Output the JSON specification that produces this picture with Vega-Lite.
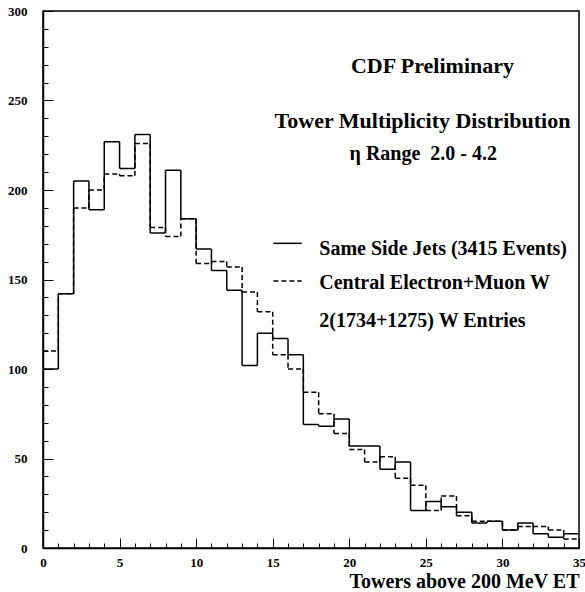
{
  "$schema": "https://vega.github.io/schema/vega-lite/v6.json",
  "width": 536,
  "height": 537,
  "autosize": "none",
  "padding": {"left": 43, "top": 11, "right": 6, "bottom": 44},
  "background": "white",
  "config": {
    "view": {"stroke": "black", "strokeWidth": 1.5},
    "font": "Liberation Serif",
    "axis": {"domainColor": "black", "tickColor": "black", "labelColor": "black", "titleColor": "black", "domainWidth": 1.5, "tickWidth": 1, "grid": false, "labelFont": "Liberation Serif", "labelFontWeight": "bold", "labelFontSize": 13, "labelFlush": false, "labelOverlap": false},
    "axisX": {
      "tickCount": 35,
      "labelExpr": "datum.value % 5 === 0 ? datum.label : ''",
      "tickSize": {"condition": {"test": "datum.value % 5 === 0", "value": -10}, "value": -5},
      "labelPadding": 18,
      "titleFont": "Liberation Serif", "titleFontWeight": "bold", "titleFontSize": 20,
      "titleAnchor": null, "titleAlign": "right", "titleBaseline": "alphabetic",
      "titleX": 536, "titleY": 39
    },
    "axisY": {
      "tickCount": 30,
      "labelExpr": "datum.value % 50 === 0 ? datum.label : ''",
      "tickSize": {"condition": {"test": "datum.value % 50 === 0", "value": -10}, "value": -5},
      "labelPadding": 26
    }
  },
  "data": {
    "values": [
      {"lo": 0, "hi": 1, "jets": 100, "w": 110},
      {"lo": 1, "hi": 2, "jets": 142, "w": 142},
      {"lo": 2, "hi": 3, "jets": 205, "w": 190},
      {"lo": 3, "hi": 4, "jets": 189, "w": 200},
      {"lo": 4, "hi": 5, "jets": 227, "w": 209},
      {"lo": 5, "hi": 6, "jets": 212, "w": 208},
      {"lo": 6, "hi": 7, "jets": 231, "w": 226},
      {"lo": 7, "hi": 8, "jets": 176, "w": 179},
      {"lo": 8, "hi": 9, "jets": 211, "w": 174},
      {"lo": 9, "hi": 10, "jets": 184, "w": 184},
      {"lo": 10, "hi": 11, "jets": 167, "w": 159},
      {"lo": 11, "hi": 12, "jets": 155, "w": 160},
      {"lo": 12, "hi": 13, "jets": 144, "w": 157},
      {"lo": 13, "hi": 14, "jets": 102, "w": 143},
      {"lo": 14, "hi": 15, "jets": 120, "w": 132},
      {"lo": 15, "hi": 16, "jets": 117, "w": 108},
      {"lo": 16, "hi": 17, "jets": 108, "w": 100},
      {"lo": 17, "hi": 18, "jets": 69, "w": 87},
      {"lo": 18, "hi": 19, "jets": 68, "w": 75},
      {"lo": 19, "hi": 20, "jets": 72, "w": 64},
      {"lo": 20, "hi": 21, "jets": 57, "w": 55},
      {"lo": 21, "hi": 22, "jets": 57, "w": 48},
      {"lo": 22, "hi": 23, "jets": 44, "w": 51},
      {"lo": 23, "hi": 24, "jets": 48, "w": 39},
      {"lo": 24, "hi": 25, "jets": 21, "w": 35},
      {"lo": 25, "hi": 26, "jets": 26, "w": 21},
      {"lo": 26, "hi": 27, "jets": 23, "w": 29},
      {"lo": 27, "hi": 28, "jets": 20, "w": 18},
      {"lo": 28, "hi": 29, "jets": 14, "w": 15},
      {"lo": 29, "hi": 30, "jets": 15, "w": 15},
      {"lo": 30, "hi": 31, "jets": 10, "w": 10},
      {"lo": 31, "hi": 32, "jets": 14, "w": 12},
      {"lo": 32, "hi": 33, "jets": 8, "w": 12},
      {"lo": 33, "hi": 34, "jets": 6, "w": 10},
      {"lo": 34, "hi": 35, "jets": 8, "w": 5}
    ]
  },
  "layer": [
    {
      "transform": [{"fold": ["jets", "w"], "as": ["series", "count"]}],
      "mark": {"type": "rule", "color": "black", "strokeWidth": 1.5},
      "encoding": {
        "x": {
          "field": "lo", "type": "quantitative",
          "scale": {"domain": [0, 35], "nice": false, "zero": false},
          "axis": {"title": "Towers above 200 MeV ET"}
        },
        "x2": {"field": "hi"},
        "y": {
          "field": "count", "type": "quantitative",
          "scale": {"domain": [0, 300], "nice": false},
          "axis": {"title": null}
        },
        "strokeDash": {
          "field": "series", "type": "nominal",
          "scale": {"domain": ["jets", "w"], "range": [[1, 0], [5, 3]]},
          "legend": null
        }
      }
    },
    {
      "transform": [
        {"fold": ["jets", "w"], "as": ["series", "count"]},
        {"window": [{"op": "lag", "field": "count", "as": "prev"}], "groupby": ["series"], "sort": [{"field": "lo", "order": "ascending"}]},
        {"filter": "datum.prev != null"}
      ],
      "mark": {"type": "rule", "color": "black", "strokeWidth": 1.5},
      "encoding": {
        "x": {"field": "lo", "type": "quantitative", "axis": {"title": "Towers above 200 MeV ET"}},
        "y": {"field": "prev", "type": "quantitative", "axis": {"title": null}},
        "y2": {"field": "count"},
        "strokeDash": {"field": "series", "type": "nominal", "legend": null}
      }
    },
    {
      "data": {"values": [{"series": "jets"}]},
      "mark": {"type": "rule", "color": "black", "strokeWidth": 1.5},
      "encoding": {
        "x": {"datum": 15.04, "type": "quantitative"},
        "x2": {"datum": 16.89},
        "y": {"datum": 170.2, "type": "quantitative"}
      }
    },
    {
      "data": {"values": [{"series": "w"}]},
      "mark": {"type": "rule", "color": "black", "strokeWidth": 1.5, "strokeDash": [5, 3]},
      "encoding": {
        "x": {"datum": 15.04, "type": "quantitative"},
        "x2": {"datum": 16.89},
        "y": {"datum": 149.2, "type": "quantitative"}
      }
    },
    {
      "data": {"values": [{"t": "CDF Preliminary"}]},
      "mark": {"type": "text", "font": "Liberation Serif", "fontWeight": "bold", "fontSize": 22, "align": "center", "baseline": "alphabetic", "color": "black"},
      "encoding": {
        "text": {"field": "t"},
        "x": {"datum": 25.43, "type": "quantitative"},
        "y": {"datum": 265.2, "type": "quantitative"}
      }
    },
    {
      "data": {"values": [{"t": "Tower Multiplicity Distribution"}]},
      "mark": {"type": "text", "font": "Liberation Serif", "fontWeight": "bold", "fontSize": 22, "align": "center", "baseline": "alphabetic", "color": "black"},
      "encoding": {
        "text": {"field": "t"},
        "x": {"datum": 24.78, "type": "quantitative"},
        "y": {"datum": 234.5, "type": "quantitative"}
      }
    },
    {
      "data": {"values": [{"t": "η Range\u00a0\u00a02.0 - 4.2"}]},
      "mark": {"type": "text", "font": "Liberation Serif", "fontWeight": "bold", "fontSize": 20, "align": "center", "baseline": "alphabetic", "color": "black"},
      "encoding": {
        "text": {"field": "t"},
        "x": {"datum": 24.83, "type": "quantitative"},
        "y": {"datum": 216.8, "type": "quantitative"}
      }
    },
    {
      "data": {"values": [{"t": "Same Side Jets (3415 Events)"}]},
      "mark": {"type": "text", "font": "Liberation Serif", "fontWeight": "bold", "fontSize": 20, "align": "left", "baseline": "alphabetic", "color": "black"},
      "encoding": {
        "text": {"field": "t"},
        "x": {"datum": 18.04, "type": "quantitative"},
        "y": {"datum": 163.7, "type": "quantitative"}
      }
    },
    {
      "data": {"values": [{"t": "Central Electron+Muon W"}]},
      "mark": {"type": "text", "font": "Liberation Serif", "fontWeight": "bold", "fontSize": 20, "align": "left", "baseline": "alphabetic", "color": "black"},
      "encoding": {
        "text": {"field": "t"},
        "x": {"datum": 18.04, "type": "quantitative"},
        "y": {"datum": 144.5, "type": "quantitative"}
      }
    },
    {
      "data": {"values": [{"t": "2(1734+1275) W Entries"}]},
      "mark": {"type": "text", "font": "Liberation Serif", "fontWeight": "bold", "fontSize": 20, "align": "left", "baseline": "alphabetic", "color": "black"},
      "encoding": {
        "text": {"field": "t"},
        "x": {"datum": 18.04, "type": "quantitative"},
        "y": {"datum": 123.6, "type": "quantitative"}
      }
    }
  ]
}
